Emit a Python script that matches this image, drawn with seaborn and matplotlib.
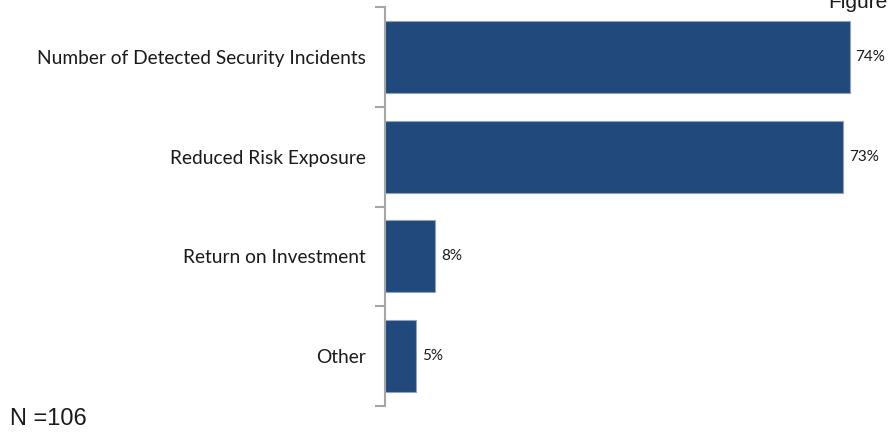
import matplotlib
matplotlib.use("Agg")
import matplotlib.pyplot as plt
import seaborn as sns
import pandas as pd
import numpy as np

categories = ["Number of Detected Security Incidents", "Reduced Risk Exposure",
              "Return on Investment", "Other"]
values = [74, 73, 8, 5]
value_labels = ["74%", "73%", "8%", "5%"]

df = pd.DataFrame({"category": categories, "value": values})

sns.set_theme(style="white")
plt.rcParams["font.family"] = ["Lato", "DejaVu Sans"]

fig = plt.figure(figsize=(8.91, 4.34), dpi=100)
ax = fig.add_axes([385/891, 1 - 406/434, 1 - 385/891, (406 - 7)/434])

sns.barplot(data=df, y="category", x="value", orient="h", color="#22497C",
            width=0.72, edgecolor="#8FA3BF", linewidth=0.8, saturation=1, ax=ax)

ax.set_xlim(0, 80.6)
ax.set_ylim(3.5, -0.5)
ax.set_xlabel("")
ax.set_ylabel("")
ax.set_xticks([])
for s in ["top", "right", "bottom"]:
    ax.spines[s].set_visible(False)
ax.spines["left"].set_color("#A6A6A6")
ax.spines["left"].set_linewidth(1.5)

ax.set_yticks(range(len(categories)))
ax.set_yticklabels(categories, fontsize=13.8, color="#1a1a1a")
ax.tick_params(axis="y", which="major", length=0, pad=14)
ax.set_yticks(np.arange(-0.5, len(categories), 1.0), minor=True)
ax.tick_params(axis="y", which="minor", length=7, width=1.5, color="#A6A6A6", left=True)

for i, (v, lab) in enumerate(zip(values, value_labels)):
    ax.text(v + 0.9, i, lab, va="center", ha="left", fontsize=11, color="#1a1a1a")

fig.text(828/891, 1 - 3/434, "Figure", fontsize=15, family="Liberation Sans",
         va="center", ha="left", color="#1a1a1a")
fig.text(10/891, 1 - 419/434, "N =106", fontsize=17, family="Liberation Sans",
         va="center", ha="left", color="#1a1a1a")

fig.savefig("out.png", dpi=100)
